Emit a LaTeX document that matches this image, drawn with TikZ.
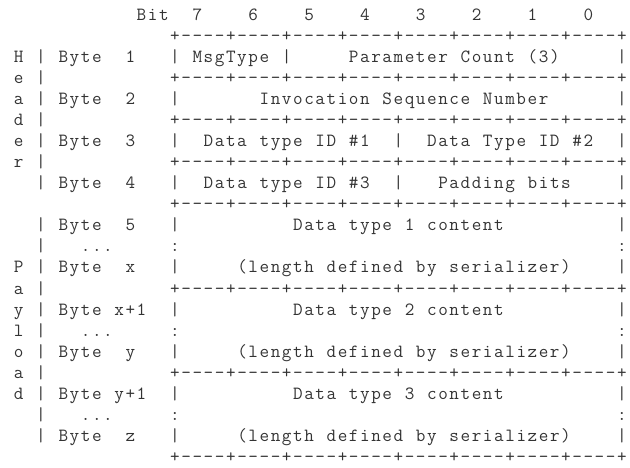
\documentclass[tikz,border=0pt]{standalone}
\makeatletter
\def\gridtext#1{\grid@loop#1\grid@end}
\def\grid@loop#1{\ifx#1\grid@end\else\makebox[11.17pt]{#1}\expandafter\grid@loop\fi}
\def\grid@end{\grid@end}
\makeatother
\tikzset{asc/.style={anchor=base west, inner sep=0pt, outer sep=0pt, text=black!80,
  font=\ttfamily\fontsize{18.62}{21}\selectfont}}
\newcommand\ascline[4]{\node[asc] (#1) at ({1.9pt+#3*11.17pt},{446.8pt-(#2-1)*21.062pt}) {\gridtext{#4}};}
\begin{document}
\begin{tikzpicture}
\useasboundingbox (0,0) rectangle (630pt,467pt);
\ascline{l1}{1}{12}{Bit~~7~~~~6~~~~5~~~~4~~~~3~~~~2~~~~1~~~~0}
\ascline{l2}{2}{15}{+----+----+----+----+----+----+----+----+}
\ascline{l3}{3}{1}{H~|~Byte~~1~~~|~MsgType~|~~~~~Parameter~Count~(3)~~~~~|}
\ascline{l4}{4}{1}{e~|~~~~~~~~~~~+----+----+----+----+----+----+----+----+}
\ascline{l5}{5}{1}{a~|~Byte~~2~~~|~~~~~~~Invocation~Sequence~Number~~~~~~|}
\ascline{l6}{6}{1}{d~|~~~~~~~~~~~+----+----+----+----+----+----+----+----+}
\ascline{l7}{7}{1}{e~|~Byte~~3~~~|~~Data~type~ID~\#1~~|~~Data~Type~ID~\#2~~|}
\ascline{l8}{8}{1}{r~|~~~~~~~~~~~+----+----+----+----+----+----+----+----+}
\ascline{l9}{9}{3}{|~Byte~~4~~~|~~Data~type~ID~\#3~~|~~~Padding~bits~~~~|}
\ascline{l10}{10}{15}{+----+----+----+----+----+----+----+----+}
\ascline{l11}{11}{3}{|~Byte~~5~~~|~~~~~~~~~~Data~type~1~content~~~~~~~~~~|}
\ascline{l12}{12}{3}{|~~~...~~~~~:~~~~~~~~~~~~~~~~~~~~~~~~~~~~~~~~~~~~~~~:}
\ascline{l13}{13}{1}{P~|~Byte~~x~~~|~~~~~(length~defined~by~serializer)~~~~|}
\ascline{l14}{14}{1}{a~|~~~~~~~~~~~+----+----+----+----+----+----+----+----+}
\ascline{l15}{15}{1}{y~|~Byte~x+1~~|~~~~~~~~~~Data~type~2~content~~~~~~~~~~|}
\ascline{l16}{16}{1}{l~|~~~...~~~~~:~~~~~~~~~~~~~~~~~~~~~~~~~~~~~~~~~~~~~~~:}
\ascline{l17}{17}{1}{o~|~Byte~~y~~~|~~~~~(length~defined~by~serializer)~~~~|}
\ascline{l18}{18}{1}{a~|~~~~~~~~~~~+----+----+----+----+----+----+----+----+}
\ascline{l19}{19}{1}{d~|~Byte~y+1~~|~~~~~~~~~~Data~type~3~content~~~~~~~~~~|}
\ascline{l20}{20}{3}{|~~~...~~~~~:~~~~~~~~~~~~~~~~~~~~~~~~~~~~~~~~~~~~~~~:}
\ascline{l21}{21}{3}{|~Byte~~z~~~|~~~~~(length~defined~by~serializer)~~~~|}
\ascline{l22}{22}{15}{+----+----+----+----+----+----+----+----+}
\end{tikzpicture}
\end{document}
